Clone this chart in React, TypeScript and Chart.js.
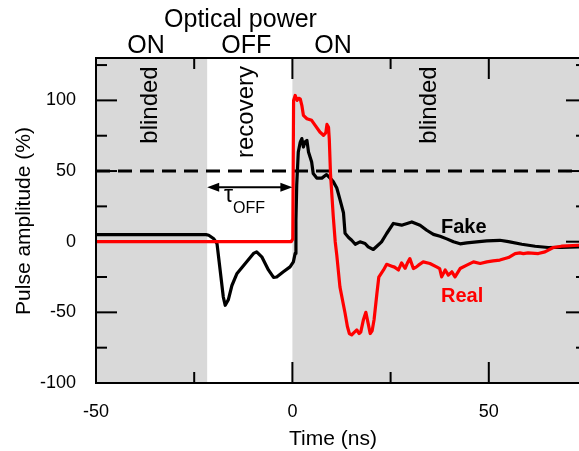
import React, { useEffect, useRef } from "react";
import { Chart, registerables } from "chart.js";

Chart.register(...registerables);

// ---- data (time in ns, amplitude in %) ----
const fakeTrace: number[][] = [
  [-50, 5], [-22, 5], [-21.3, 4.6], [-20.1, 2.3], [-19.2, -1.3], [-18.4, -20], [-17.6, -39], [-17.1, -45],
  [-16.3, -41], [-15.4, -31], [-14.1, -22.5], [-12, -15.4], [-9.9, -8.3], [-9.1, -7.2], [-7.8, -10.7],
  [-6.1, -20], [-4.8, -25.3], [-4, -25], [-2.3, -21.3], [-0.6, -17.8], [0.25, -14.3], [0.7, -8.3],
  [0.9, 15], [1.1, 40], [1.5, 63.5], [2, 70.5], [2.4, 73], [2.8, 67], [3.2, 70.5], [3.7, 71.7],
  [4.1, 63.5], [4.9, 56.4], [5.3, 48.2], [6.2, 45], [7.5, 45], [8.7, 47.5], [9.6, 45], [10.4, 42.5],
  [11.3, 38], [12.1, 30], [13, 20.5], [13.4, 6], [14.3, 3], [15.1, 1], [16, -1.8], [17.2, -0.1],
  [18.5, -1.3], [19.3, -3.7], [20.6, -5.5], [21.5, -3.2], [22.7, -0.1], [24, 5.8], [25.7, 12.9],
  [27.8, 11.7], [30.4, 14], [32.5, 11.7], [34.2, 8.1], [35.9, 5.2], [37.6, 3.9], [39.3, 2], [41, -0.1],
  [42.7, -1.5], [44.4, -0.8], [46.9, -0.1], [49.5, 0.6], [52.8, 1], [55, 0], [58.4, -1.8], [61.8, -3.2],
  [65.1, -4.1], [68.5, -4], [72.8, -3.7], [75, -3.5],
];

const realTrace: number[][] = [
  [-50, 0], [-0.3, 0], [0.1, 2], [0.3, 100], [0.7, 103.5], [1.2, 100], [1.6, 101.5], [2, 101],
  [2.4, 96.5], [2.8, 89.4], [3.7, 87], [4.9, 85.9], [5.8, 82.3], [7, 77.6], [7.9, 75.3], [8.5, 77],
  [8.8, 83], [9.2, 81], [9.4, 72], [9.7, 48], [10.4, 18], [10.9, 0], [11.3, -9.5], [12.1, -32],
  [12.8, -42], [13.4, -50.5], [14, -60], [14.5, -65], [15.1, -66], [15.8, -64], [16.4, -62.5],
  [17, -65], [17.4, -64], [18.1, -55], [18.7, -50], [19.3, -58], [19.8, -65], [20.3, -63], [20.8, -55],
  [21.5, -37], [22, -25], [23.2, -20], [24, -16], [25.3, -17.3], [26, -18], [27, -20], [27.8, -15],
  [28.7, -18.8], [29.3, -15], [29.9, -12], [30.8, -19], [31.5, -18], [32.1, -16.6], [33.3, -14.3],
  [35, -15.4], [36.7, -17.8], [37.5, -19], [38, -24.9], [38.9, -20], [39.7, -23.7], [40.6, -21.3],
  [41.4, -24.9], [42.7, -19], [44.4, -16.6], [46.1, -14.3], [47.8, -15.4], [49.5, -14.3], [51.1, -13.6],
  [52.8, -13], [55, -11.2], [56.7, -8.4], [57.9, -7.9], [58.8, -8.4], [60, -7.9], [62.6, -8.4],
  [64.3, -7.2], [66.4, -4.1], [68.5, -3.2], [72.8, -2.5], [75, -2.3],
];

const xRange = [-50, 75];
const yRange = [-100, 130];
const xMajorTicks = [-50, 0, 50];
const xMinorTicks = [-25, 25, 75];
const yMajorTicks = [-100, -50, 0, 50, 100];
const yMinorTicks = [-75, -25, 25, 75, 125];
const blindedRegions: number[][] = [[-50, -21.7], [0, 75]];
const thresholdLevel = 50;
const tauOffSpan = [-21.7, 0];
const tauOffLevel = 38.5;

const powerTitle = "Optical power";
const powerStates = ["ON", "OFF", "ON"];
const regionLabels = ["blinded", "recovery", "blinded"];
const seriesNames = ["Fake", "Real"];
const xTitle = "Time (ns)";
const yTitle = "Pulse amplitude (%)";

const FONT = '"Liberation Sans", Arial, sans-serif';

const overlayPlugin = {
  id: "overlay",
  beforeDatasetsDraw(chart: any) {
    const { ctx, chartArea: a, scales } = chart;
    const x = scales.x;
    const y = scales.y;
    ctx.save();
    ctx.fillStyle = "#d9d9d9";
    for (const [s, e] of blindedRegions) {
      const x0 = x.getPixelForValue(s);
      const x1 = x.getPixelForValue(e);
      ctx.fillRect(x0, a.top, x1 - x0, a.bottom - a.top);
    }
    const yy = y.getPixelForValue(thresholdLevel);
    ctx.setLineDash([14, 8]);
    ctx.lineWidth = 3;
    ctx.strokeStyle = "#000";
    ctx.beginPath();
    ctx.moveTo(a.left, yy);
    ctx.lineTo(a.right, yy);
    ctx.stroke();
    ctx.setLineDash([]);

    // inward ticks (under the traces)
    ctx.lineWidth = 2;
    const tick = (x0: number, y0: number, x1: number, y1: number) => {
      ctx.beginPath();
      ctx.moveTo(x0, y0);
      ctx.lineTo(x1, y1);
      ctx.stroke();
    };
    const MAJ = 21, MIN = 11;
    for (const v of xMajorTicks) {
      const p = x.getPixelForValue(v);
      tick(p, a.bottom, p, a.bottom - MAJ);
      tick(p, a.top, p, a.top + MAJ);
    }
    for (const v of xMinorTicks) {
      const p = x.getPixelForValue(v);
      tick(p, a.bottom, p, a.bottom - MIN);
      tick(p, a.top, p, a.top + MIN);
    }
    for (const v of yMajorTicks) {
      const p = y.getPixelForValue(v);
      tick(a.left, p, a.left + MAJ, p);
      tick(a.right, p, a.right - MAJ, p);
    }
    for (const v of yMinorTicks) {
      const p = y.getPixelForValue(v);
      tick(a.left, p, a.left + MIN, p);
      tick(a.right, p, a.right - MIN, p);
    }
    ctx.restore();
  },
  afterDraw(chart: any) {
    const { ctx, chartArea: a, scales } = chart;
    const x = scales.x;
    const y = scales.y;
    ctx.save();
    // frame
    ctx.strokeStyle = "#000";
    ctx.lineWidth = 2;
    ctx.setLineDash([]);
    ctx.strokeRect(a.left, a.top, a.right - a.left, a.bottom - a.top);

    // tau_OFF double arrow
    const ax0 = x.getPixelForValue(tauOffSpan[0]);
    const ax1 = x.getPixelForValue(tauOffSpan[1]);
    const ay = y.getPixelForValue(tauOffLevel);
    ctx.lineWidth = 2;
    ctx.beginPath();
    ctx.moveTo(ax0 + 8, ay);
    ctx.lineTo(ax1 - 8, ay);
    ctx.stroke();
    ctx.fillStyle = "#000";
    ctx.beginPath();
    ctx.moveTo(ax0, ay);
    ctx.lineTo(ax0 + 12, ay - 4.5);
    ctx.lineTo(ax0 + 12, ay + 4.5);
    ctx.closePath();
    ctx.fill();
    ctx.beginPath();
    ctx.moveTo(ax1, ay);
    ctx.lineTo(ax1 - 12, ay - 4.5);
    ctx.lineTo(ax1 - 12, ay + 4.5);
    ctx.closePath();
    ctx.fill();

    // texts
    ctx.fillStyle = "#000";
    ctx.textBaseline = "alphabetic";
    ctx.textAlign = "left";
    ctx.font = `23px ${FONT}`;
    ctx.fillText("\u03c4", 224, 201.5);
    ctx.font = `16px ${FONT}`;
    ctx.fillText("OFF", 233, 212.5);

    ctx.textAlign = "center";
    ctx.font = `25px ${FONT}`;
    ctx.fillText(powerTitle, 240.5, 27);
    const statePos = [146, 246.3, 333];
    powerStates.forEach((s, i) => ctx.fillText(s, statePos[i], 52.5));

    const rot = (text: string, bx: number, cy: number, font: string) => {
      ctx.save();
      ctx.translate(bx, cy);
      ctx.rotate(-Math.PI / 2);
      ctx.font = font;
      ctx.textAlign = "center";
      ctx.textBaseline = "alphabetic";
      ctx.fillText(text, 0, 0);
      ctx.restore();
    };
    const regionPos = [[157, 105], [253, 112], [436, 105]];
    regionLabels.forEach((s, i) => rot(s, regionPos[i][0], regionPos[i][1], `24px ${FONT}`));

    rot(yTitle, 30, 221, `21px ${FONT}`);
    ctx.font = `21px ${FONT}`;
    ctx.textAlign = "center";
    ctx.fillText(xTitle, 333, 445);

    ctx.textAlign = "left";
    ctx.font = `bold 20px ${FONT}`;
    ctx.fillStyle = "#000";
    ctx.fillText(seriesNames[0], 441, 232.5);
    ctx.fillStyle = "#ff0000";
    ctx.fillText(seriesNames[1], 441, 302.3);
    ctx.restore();
  },
};

export default function App() {
  const ref = useRef<HTMLCanvasElement | null>(null);
  useEffect(() => {
    if (!ref.current) return;
    const chart = new Chart(ref.current, {
      type: "line",
      data: {
        datasets: [
          {
            label: seriesNames[1],
            data: realTrace.map(([t, v]) => ({ x: t, y: v })),
            borderColor: "#ff0000",
            borderWidth: 3.2,
            borderJoinStyle: "round",
            borderCapStyle: "round",
            pointRadius: 0,
            tension: 0,
            order: 0,
          },
          {
            label: seriesNames[0],
            data: fakeTrace.map(([t, v]) => ({ x: t, y: v })),
            borderColor: "#000000",
            borderWidth: 3.2,
            borderJoinStyle: "round",
            borderCapStyle: "round",
            pointRadius: 0,
            tension: 0,
            order: 1,
          },
        ],
      },
      options: {
        responsive: false,
        maintainAspectRatio: false,
        devicePixelRatio: 1,
        animation: false,
        layout: { padding: { left: 0, top: 58, right: 13, bottom: 0 } },
        plugins: { legend: { display: false }, tooltip: { enabled: false } },
        scales: {
          x: {
            type: "linear",
            min: xRange[0],
            max: xRange[1],
            border: { display: false },
            grid: { display: false, drawTicks: false },
            ticks: {
              stepSize: 50,
              includeBounds: false,
              padding: 18,
              color: "#000",
              font: { family: FONT, size: 18 },
              maxRotation: 0,
            },
            afterFit: (s: any) => {
              s.height = 68;
            },
          },
          y: {
            type: "linear",
            min: yRange[0],
            max: yRange[1],
            border: { display: false },
            grid: { display: false, drawTicks: false },
            ticks: {
              stepSize: 50,
              includeBounds: false,
              padding: 20,
              color: "#000",
              font: { family: FONT, size: 18 },
            },
            afterFit: (s: any) => {
              s.width = 96;
            },
          },
        },
      },
      plugins: [overlayPlugin],
    });
    return () => chart.destroy();
  }, []);
  return (
    <div
      style={{
        position: "fixed",
        left: 0,
        top: 0,
        width: 579,
        height: 451,
        overflow: "hidden",
        background: "#fff",
      }}
    >
      <canvas ref={ref} width={600} height={451} style={{ display: "block", width: 600, height: 451 }} />
    </div>
  );
}
